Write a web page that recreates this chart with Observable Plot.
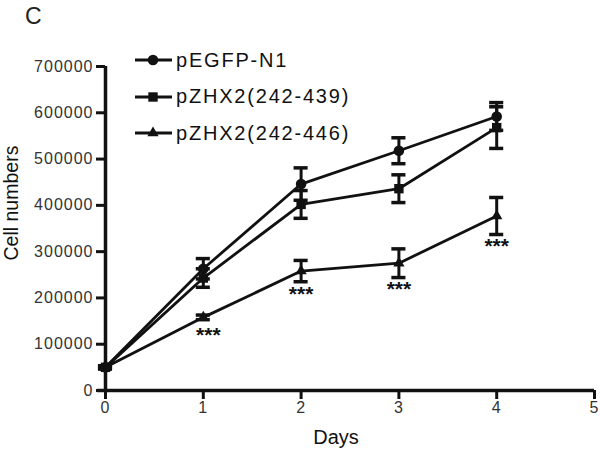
<!DOCTYPE html>
<html>
<head>
<meta charset="utf-8">
<script src="https://cdn.jsdelivr.net/npm/d3@7"></script>
<script src="https://cdn.jsdelivr.net/npm/@observablehq/plot@0.6"></script>
<style>
  body { margin: 0; background: #fff; font-family: "Liberation Sans", Arial, sans-serif; }
  #wrap { position: relative; width: 600px; height: 452px; }
  #panel { position: absolute; left: 25px; top: 3px; font-size: 23px; color: #222; }
  #legend { position: absolute; left: 134px; top: 42px; }
  .row { display: flex; align-items: center; height: 36.5px; font-size: 20px; letter-spacing: 1.8px; color: #111; }
  .row svg { margin-right: 2px; }
  svg g[aria-label$="tick label"] text { font-size: 16px; letter-spacing: 1px; }
</style>
</head>
<body>
<div id="wrap">
  <div id="panel">C</div>
  <div id="legend"></div>
</div>
<script>
const days = [0, 1, 2, 3, 4];
const seriesNames = ["pEGFP-N1", "pZHX2(242-439)", "pZHX2(242-446)"];
const symbols = ["circle", "square", "triangle"];
const egfpMean = [50000, 263000, 446000, 518000, 592000];
const egfpErr  = [3000, 22000, 35000, 28000, 30000];
const z439Mean = [50000, 243000, 402000, 436000, 568000];
const z439Err  = [3000, 20000, 30000, 30000, 45000];
const z446Mean = [50000, 158000, 258000, 275000, 377000];
const z446Err  = [3000, 5000, 23000, 31000, 40000];
const sigLabels = ["", "***", "***", "***", "***"];
const yTicks = [0, 100000, 200000, 300000, 400000, 500000, 600000, 700000];
const xTicks = [0, 1, 2, 3, 4, 5];

const means = [egfpMean, z439Mean, z446Mean];
const errs = [egfpErr, z439Err, z446Err];
const data = [];
seriesNames.forEach((s, i) => days.forEach((d, j) => data.push({
  series: s, symbol: symbols[i], day: d, value: means[i][j], err: errs[i][j], sig: i === 2 ? sigLabels[j] : ""
})));
const cap = 0.072;
const sigData = data.filter(d => d.sig);

const chart = Plot.plot({
  width: 600, height: 452,
  marginLeft: 105, marginRight: 6, marginTop: 66, marginBottom: 62,
  style: { fontFamily: "Liberation Sans, Arial, sans-serif", background: "transparent" },
  x: { domain: [0, 5] },
  y: { domain: [0, 700000] },
  marks: [
    Plot.axisY({ ticks: yTicks, tickFormat: d3.format("d"), tickSize: 9, tickPadding: 3, label: null, fill: "#333", strokeWidth: 3, stroke: "#111" }),
    Plot.axisX({ ticks: xTicks, tickFormat: d3.format("d"), tickSize: 9, tickPadding: 2, label: null, fill: "#333", strokeWidth: 3, stroke: "#111" }),
    Plot.ruleX([0], { stroke: "#111", strokeWidth: 3.5 }),
    Plot.ruleY([0], { stroke: "#111", strokeWidth: 3.5, x1: -0.08, x2: 5 }),
    Plot.line(data, { x: "day", y: "value", z: "series", stroke: "#111", strokeWidth: 2.8 }),
    Plot.ruleX(data, { x: "day", y1: d => d.value - d.err, y2: d => d.value + d.err, stroke: "#111", strokeWidth: 3 }),
    Plot.ruleY(data, { y: d => d.value + d.err, x1: d => d.day - cap, x2: d => d.day + cap, stroke: "#111", strokeWidth: 3.5 }),
    Plot.ruleY(data, { y: d => d.value - d.err, x1: d => d.day - cap, x2: d => d.day + cap, stroke: "#111", strokeWidth: 3.5 }),
    Plot.dot(data.filter(d => d.symbol === "circle"), { x: "day", y: "value", symbol: "circle", fill: "#111", r: 5.3 }),
    Plot.dot(data.filter(d => d.symbol === "square"), { x: "day", y: "value", symbol: "square", fill: "#111", r: 5.3 }),
    Plot.dot(data.filter(d => d.symbol === "triangle"), { x: "day", y: "value", symbol: "triangle", fill: "#111", r: 4.2 }),
    Plot.text(sigData.filter(d => d.day === 1), { x: "day", y: d => d.value - d.err, text: "sig", dy: 7, dx: 5, lineAnchor: "top", fontSize: 21, fontWeight: "bold", fill: "#111" }),
    Plot.text(sigData.filter(d => d.day !== 1), { x: "day", y: d => d.value - d.err, text: "sig", dy: 4, dx: 0, lineAnchor: "top", fontSize: 21, fontWeight: "bold", fill: "#111" }),
    Plot.text(["Cell numbers"], { frameAnchor: "left", textAnchor: "start", rotate: -90, dx: -94, dy: 32, fontSize: 19.5, fill: "#111" }),
    Plot.text(["Days"], { frameAnchor: "bottom", dx: -14, dy: 53, fontSize: 20, fill: "#111" })
  ]
});
document.getElementById("wrap").prepend(chart);
chart.style.position = "absolute"; chart.style.left = "0"; chart.style.top = "0";

const legend = document.getElementById("legend");
const legendSizes = [5.3, 5.3, 4.2];
seriesNames.forEach((s, i) => {
  const row = document.createElement("div");
  row.className = "row";
  const sym = d3.symbol(d3[["symbolCircle", "symbolSquare", "symbolTriangle"][i]], Math.PI * legendSizes[i] * legendSizes[i])();
  row.innerHTML = `<svg width="40" height="16"><line x1="1" x2="38" y1="8" y2="8" stroke="#111" stroke-width="3"/><path d="${sym}" transform="translate(19,8)" fill="#111"/></svg><span>${s}</span>`;
  legend.appendChild(row);
});
</script>
</body>
</html>
